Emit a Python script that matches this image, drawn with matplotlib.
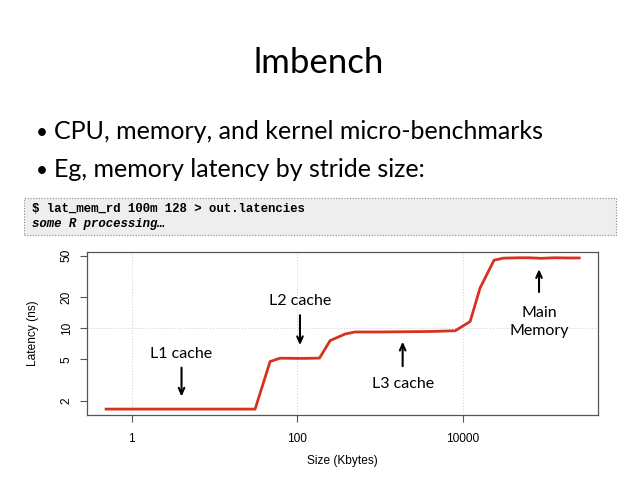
import matplotlib.pyplot as plt
from matplotlib.patches import Rectangle

# memory latency by working set size (lat_mem_rd output)
sizes_kb = [0.49, 1, 2, 4, 8, 16, 31, 47, 62, 96, 128, 186, 250, 380, 500,
            1000, 2000, 4000, 8100, 12300, 16200, 23900, 31000, 48000,
            64000, 89000, 128000, 192000, 256000]
latency_ns = [1.66, 1.66, 1.66, 1.66, 1.66, 1.66, 1.66, 4.77, 5.14, 5.12,
              5.12, 5.15, 7.6, 8.8, 9.2, 9.2, 9.25, 9.3, 9.45, 11.6, 24.4,
              45.3, 47.4, 47.8, 47.8, 47.2, 47.8, 47.6, 47.6]

x_ticks = [1, 100, 10000]
y_ticks = [2, 5, 10, 20, 50]

# (label, text x, text y, arrow x, arrow start y, arrow end y)
notes = [
    ("L1 cache", 4.0, 5.65, 4.0, 4.43, 2.06),
    ("L2 cache", 108, 18.4, 108, 14.2, 6.45),
    ("L3 cache", 1880, 2.9, 1880, 4.05, 7.89),
    ("Main\nMemory", 83600, 11.5, 83600, 21, 39.5),
]

title = "lmbench"
bullets = ["CPU, memory, and kernel micro-benchmarks",
           "Eg, memory latency by stride size:"]
code_lines = ["$ lat_mem_rd 100m 128 > out.latencies", "some R processing\u2026"]

slide_font = ["Lato", "DejaVu Sans"]
plot_font = ["Liberation Sans", "DejaVu Sans"]
mono_font = ["Liberation Mono", "DejaVu Sans Mono"]

fig = plt.figure(figsize=(6.38, 4.79), dpi=100)
W, H = 638, 479


def fx(px):
    return px / W


def fy(py):
    return 1 - py / H


# slide text
fig.text(0.5, fy(73), title, ha="center", va="baseline", fontsize=25,
         family=slide_font)
for i, line in enumerate(bullets):
    y = fy(139 + i * 38)
    fig.text(fx(36), y, "\u2022", ha="left", va="baseline", fontsize=15,
             family=slide_font)
    fig.text(fx(54), y, line, ha="left", va="baseline", fontsize=18,
             family=slide_font)

# code box
fig.patches.append(Rectangle((fx(24), fy(235)), fx(616 - 24), 37 / H,
                             transform=fig.transFigure, facecolor="#eeeeee",
                             edgecolor="#888888", linestyle=(0, (1, 1.5)),
                             linewidth=0.8))
fig.text(fx(32), fy(209), code_lines[0], ha="left", va="center", fontsize=8.9,
         family=mono_font, weight="bold")
fig.text(fx(32), fy(224), code_lines[1], ha="left", va="center", fontsize=8.9,
         family=mono_font, weight="bold", style="italic")

# chart
ax = fig.add_axes([fx(86.7), fy(415), fx(598 - 86.7), (415 - 251.7) / H])
ax.plot(sizes_kb, latency_ns, color="#d8321f", linewidth=2)
ax.set_xscale("log")
ax.set_yscale("log")
ax.set_xlim(0.2858, 431500)
ax.set_ylim(1.456, 54.7)

ax.set_xticks(x_ticks)
ax.set_xticklabels([str(v) for v in x_ticks])
ax.set_yticks(y_ticks)
ax.set_yticklabels([str(v) for v in y_ticks], rotation=90, va="center")
ax.minorticks_off()
ax.tick_params(direction="out", length=5, width=0.8, color="#555555",
               labelsize=8.6, pad=8)
ax.tick_params(axis="y", pad=5)
for lbl in ax.get_xticklabels() + ax.get_yticklabels():
    lbl.set_family(plot_font)
for sp in ax.spines.values():
    sp.set_color("#555555")
    sp.set_linewidth(0.9)

for v in x_ticks:
    ax.axvline(v, color="#cccccc", linestyle=(0, (1, 2)), linewidth=0.7, zorder=0)
ax.axhline(10, color="#cccccc", linestyle=(0, (1, 2)), linewidth=0.7, zorder=0)

ax.set_xlabel("Size (Kbytes)", fontsize=8.6, family=plot_font, labelpad=7)
ax.set_ylabel("Latency (ns)", fontsize=8.6, family=plot_font, labelpad=16)

for label, tx, ty, axx, ay0, ay1 in notes:
    ax.text(tx, ty, label, ha="center", va="center", fontsize=11.5,
            family=slide_font, linespacing=1.4)
    ax.annotate("", xy=(axx, ay1), xytext=(axx, ay0),
                arrowprops=dict(arrowstyle="->,head_width=0.2,head_length=0.45",
                                color="black", linewidth=1.5))

fig.savefig("out.png", dpi=100)
